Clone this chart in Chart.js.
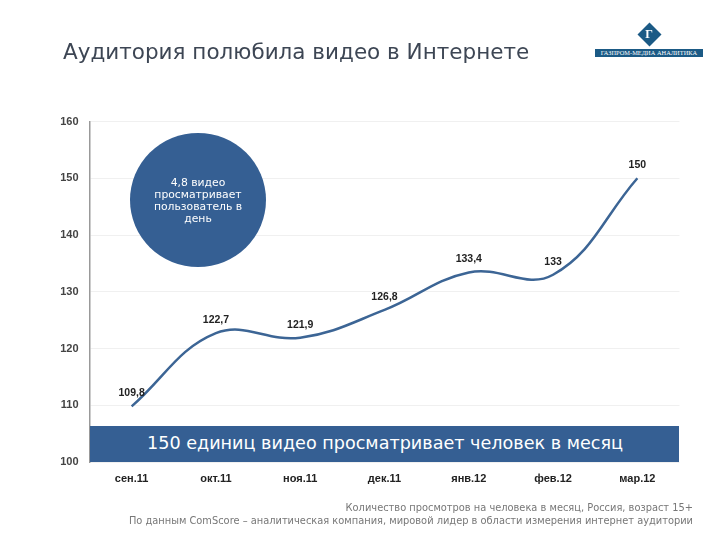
<!DOCTYPE html>
<html lang="ru">
<head>
<meta charset="utf-8">
<title>Аудитория полюбила видео в Интернете</title>
<script src="https://cdn.jsdelivr.net/npm/chart.js@4"></script>
<style>
    html, body { margin: 0; padding: 0; background: #fff; }
    #page { position: relative; width: 720px; height: 540px; overflow: hidden; font-family: "DejaVu Sans", sans-serif; }
    #chart { position: absolute; left: 0; top: 0; }
    #title { position: absolute; left: 63px; top: 39px; font-size: 21.5px; color: #3d4654; white-space: nowrap; }
    #circle { position: absolute; left: 130px; top: 133px; width: 136px; height: 134px; border-radius: 50%; background: #355f93; }
    #circleText { position: absolute; left: 130px; top: 177px; width: 136px; text-align: center; color: #fff; font-size: 10.8px; line-height: 12px; }
    #banner { position: absolute; left: 90px; top: 426px; width: 589px; height: 36px; background: #355f93; }
    #bannerText { position: absolute; left: 147px; top: 433px; color: #fff; font-size: 17.6px; white-space: nowrap; }
    #source { position: absolute; right: 27px; top: 501px; text-align: right; color: #777; font-size: 9.85px; line-height: 13px; white-space: nowrap; }
    #logoMark { position: absolute; left: 640.5px; top: 25.5px; width: 17px; height: 17px; background: #1b5a85; transform: rotate(45deg); }
    #logoGlyph { position: absolute; left: 640.5px; top: 25.5px; width: 17px; text-align: center; color: #fff; font: bold 12px/17px "Liberation Serif", serif; }
    #logoText { position: absolute; left: 595px; top: 49px; width: 108px; height: 8px; background: #1b5a85; color: #fff; font: 6.4px/8px "Liberation Serif", serif; text-align: center; white-space: nowrap; }
</style>
</head>
<body>
<div id="page">
    <canvas id="chart" width="720" height="540"></canvas>
    <div id="title">Аудитория полюбила видео в Интернете</div>
    <div id="logoMark"></div>
    <div id="logoGlyph">Г</div>
    <div id="logoText">ГАЗПРОМ-МЕДИА АНАЛИТИКА</div>
    <div id="circle"></div>
    <div id="circleText">4,8 видео<br>просматривает<br>пользователь в<br>день</div>
    <div id="banner"></div>
    <div id="bannerText">150 единиц видео просматривает человек в месяц</div>
    <div id="source">Количество просмотров на человека в месяц, Россия, возраст 15+<br>По данным ComScore – аналитическая компания, мировой лидер в области измерения интернет аудитории</div>
</div>
<script>
const months = ["сен.11", "окт.11", "ноя.11", "дек.11", "янв.12", "фев.12", "мар.12"];
const views = [109.8, 122.7, 121.9, 126.8, 133.4, 133, 150];
const yTicks = [100, 110, 120, 130, 140, 150, 160];

const pointLabels = {
    id: "pointLabels",
    afterDatasetsDraw(chart) {
        const ctx = chart.ctx;
        ctx.save();
        ctx.font = "bold 10.5px 'Liberation Sans', sans-serif";
        ctx.fillStyle = "#222";
        ctx.textAlign = "center";
        ctx.textBaseline = "middle";
        chart.getDatasetMeta(0).data.forEach((point, i) => {
            ctx.fillText(String(views[i]).replace(".", ","), point.x, point.y - 13);
        });
        ctx.restore();
    }
};

new Chart(document.getElementById("chart").getContext("2d"), {
    type: "line",
    data: {
        labels: months,
        datasets: [{
            data: views,
            borderColor: "#3c6595",
            borderWidth: 2.5,
            tension: 0.4,
            pointRadius: 0,
            fill: false
        }]
    },
    options: {
        responsive: false,
        animation: false,
        layout: { padding: { top: 121.5, right: 40.5, left: 0, bottom: 0 } },
        plugins: { legend: { display: false }, tooltip: { enabled: false } },
        scales: {
            x: {
                offset: true,
                afterFit(scale) { scale.height = 78; },
                grid: { display: false },
                border: { display: false },
                ticks: { color: "#222", padding: 2, maxRotation: 0, font: { family: "Liberation Sans", size: 11, weight: "bold" } }
            },
            y: {
                min: 100,
                max: 160,
                afterFit(scale) { scale.width = 89.5; },
                afterBuildTicks(scale) { scale.ticks = yTicks.map((value) => ({ value })); },
                grid: { color: "#f0f0f0", drawTicks: false },
                border: { color: "#999", width: 1.5 },
                ticks: { color: "#444", padding: 11, font: { family: "Liberation Sans", size: 11, weight: "bold" } }
            }
        }
    },
    plugins: [pointLabels]
});
</script>
</body>
</html>
